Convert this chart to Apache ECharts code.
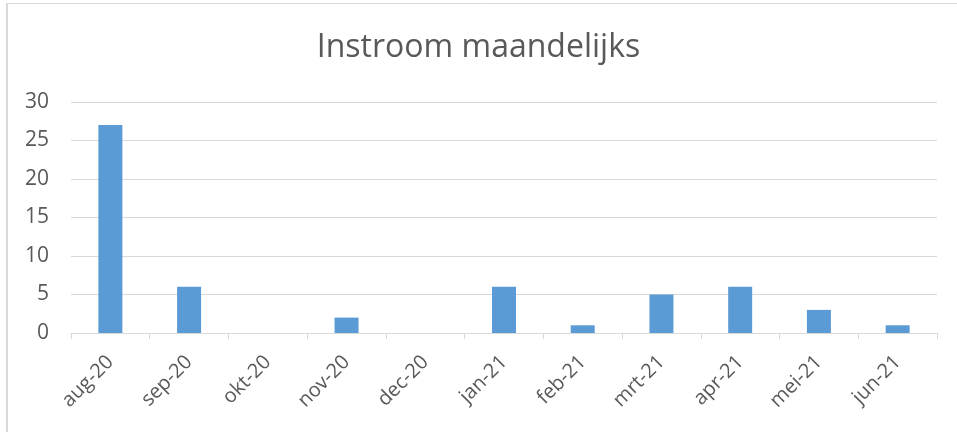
<!DOCTYPE html>
<html><head><meta charset="utf-8">
<script src="https://cdn.jsdelivr.net/npm/echarts@6/dist/echarts.min.js"></script>
<style>html,body{margin:0;padding:0;background:#fff;}#c{width:957px;height:432px;}</style>
</head><body><div id="c"></div>
<script>
const categories = ['aug-20','sep-20','okt-20','nov-20','dec-20','jan-21','feb-21','mrt-21','apr-21','mei-21','jun-21'];
const values = [27, 6, 0, 2, 0, 6, 1, 5, 6, 3, 1];
const yTicks = {min: 0, max: 30, interval: 5};
const titleText = 'Instroom maandelijks';

const chart = echarts.init(document.getElementById('c'), null, {renderer: 'canvas'});
chart.setOption({
  animation: false,
  backgroundColor: '#fff',
  title: {text: titleText, left: 'center', top: 27,
    textStyle: {fontFamily: 'Open Sans', fontSize: 32, fontWeight: 'normal', color: '#595959'}},
  graphic: [
    {type: 'line', shape: {x1: 7, y1: 3, x2: 7, y2: 432}, style: {stroke: '#d9d9d9', lineWidth: 2}},
    {type: 'line', shape: {x1: 6, y1: 3.5, x2: 957, y2: 3.5}, style: {stroke: '#d9d9d9', lineWidth: 1}}
  ],
  grid: {left: 71, right: 20, top: 102, bottom: 99, containLabel: false},
  xAxis: {
    type: 'category', data: categories, boundaryGap: true,
    axisLine: {lineStyle: {color: '#d9d9d9', width: 1}},
    axisTick: {show: true, length: 6, interval: 0, lineStyle: {color: '#d9d9d9'}},
    axisLabel: {rotate: 45, interval: 0, margin: 26, fontFamily: 'Open Sans', fontSize: 20, color: '#595959'}
  },
  yAxis: {
    type: 'value', min: yTicks.min, max: yTicks.max, interval: yTicks.interval,
    axisLine: {show: false}, axisTick: {show: false},
    splitLine: {lineStyle: {color: '#d9d9d9', width: 1}},
    axisLabel: {fontFamily: 'Open Sans', fontSize: 21, color: '#595959', margin: 22}
  },
  series: [{type: 'bar', data: values, barWidth: 24, itemStyle: {color: '#5b9bd5'}}]
});
</script></body></html>
